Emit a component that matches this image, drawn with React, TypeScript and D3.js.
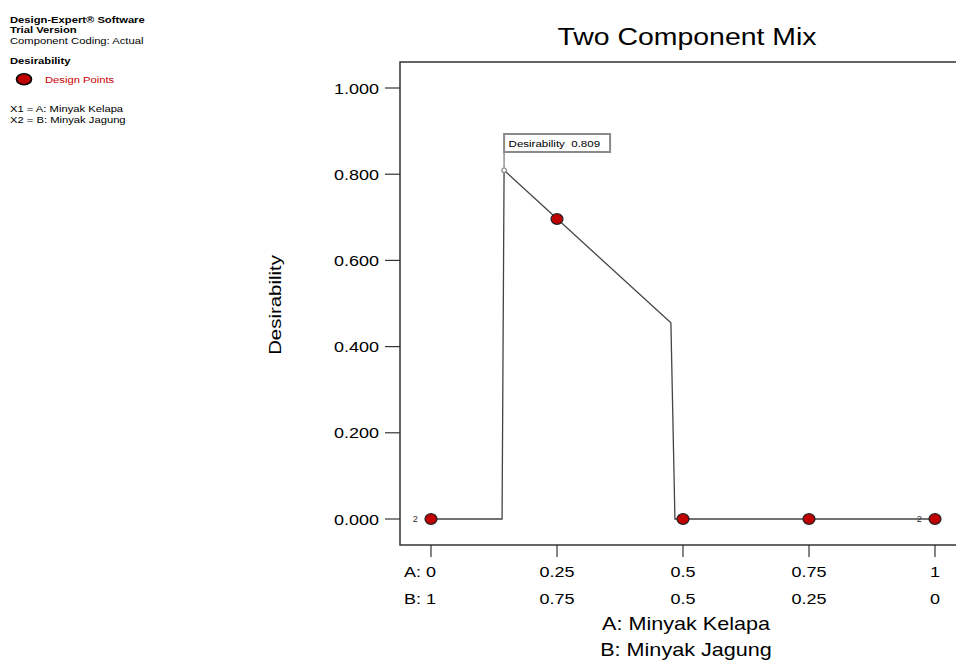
import React from "react";
import * as d3 from "d3";

// ---- data ----
const curveA = [0, 0.141, 0.145, 0.476, 0.484, 1];
const curveD = [0, 0, 0.809, 0.455, 0, 0];
const pointA = [0, 0.25, 0.5, 0.75, 1];
const pointD = [0, 0.696, 0, 0, 0];
const pointReps = [2, 1, 1, 1, 2];
const xTicksA = ["0", "0.25", "0.5", "0.75", "1"];
const xTicksB = ["1", "0.75", "0.5", "0.25", "0"];
const xTickVals = [0, 0.25, 0.5, 0.75, 1];
const yTickVals = [0, 0.2, 0.4, 0.6, 0.8, 1.0];
const optimumA = 0.145;
const optimumD = 0.809;
const infoLines = ["Design-Expert® Software", "Trial Version", "Component Coding: Actual"];
const factorLines = ["X1 = A: Minyak Kelapa", "X2 = B: Minyak Jagung"];

const FONT = "'Liberation Sans', Arial, Helvetica, sans-serif";

function T({ x, y, size, anchor = "start", weight = "normal", fill = "#000", rotate = 0, sx = 1.2, children }: any) {
  return (
    <text
      transform={`translate(${x},${y}) rotate(${rotate}) scale(${sx},1)`}
      fontFamily={FONT}
      fontSize={size}
      fontWeight={weight}
      fill={fill}
      textAnchor={anchor}
      xmlSpace="preserve"
      style={{ whiteSpace: "pre" }}
    >
      {children}
    </text>
  );
}

export default function App() {
  const W = 956, H = 660;
  const x = d3.scaleLinear().domain([0, 1]).range([431, 935]);
  const y = d3.scaleLinear().domain([0, 1]).range([519, 88]);
  const frame = { left: 400, top: 62, bottom: 545, right: 1000 };

  const line = d3
    .line<number>()
    .x((_, i) => x(curveA[i]))
    .y((d) => y(d));
  const path = line(curveD) || "";

  const ox = x(optimumA), oy = y(optimumD);

  return (
    <div style={{ position: "absolute", left: 0, top: 0 }}>
      <svg width={W} height={H} style={{ display: "block", background: "#fff" }}>
        {/* left info panel */}
        {infoLines.map((s, i) => (
          <T key={s} x={10} y={22.5 + i * 10.8} size={9.2} weight={i < 2 ? "bold" : "normal"} sx={1.22}>
            {s}
          </T>
        ))}
        <T x={10} y={64} size={9.2} weight="bold" sx={1.22}>Desirability</T>
        <ellipse cx={24} cy={79.3} rx={7.5} ry={5.5} fill="#c00000" stroke="#000" strokeWidth={1.6} />
        <T x={45} y={82.6} size={9.2} fill="#cc0000" sx={1.22}>Design Points</T>
        {factorLines.map((s, i) => (
          <T key={s} x={10} y={112 + i * 10.7} size={9.2} sx={1.22}>
            {s}
          </T>
        ))}

        {/* title */}
        <T x={687} y={45} size={23.5} anchor="middle" sx={1.21}>Two Component Mix</T>

        {/* frame */}
        <rect
          x={frame.left}
          y={frame.top}
          width={frame.right - frame.left}
          height={frame.bottom - frame.top}
          fill="none"
          stroke="#333"
          strokeWidth={1.5}
        />

        {/* y axis ticks */}
        {yTickVals.map((v) => (
          <g key={v}>
            <line x1={385} x2={frame.left} y1={y(v)} y2={y(v)} stroke="#333" strokeWidth={1.2} />
            <T x={379} y={y(v) + 5.5} size={15} anchor="end">{d3.format(".3f")(v)}</T>
          </g>
        ))}
        <T x={281} y={305} size={17} anchor="middle" rotate={-90}>Desirability</T>

        {/* x axis ticks */}
        {xTickVals.map((v, i) => (
          <g key={v}>
            <line x1={x(v)} x2={x(v)} y1={frame.bottom} y2={557} stroke="#333" strokeWidth={1.2} />
            <T x={x(v)} y={577} size={15} anchor="middle">{xTicksA[i]}</T>
            <T x={x(v)} y={603.5} size={15} anchor="middle">{xTicksB[i]}</T>
          </g>
        ))}
        <T x={x(0) - 10} y={577} size={15} anchor="end">A:</T>
        <T x={x(0) - 10} y={603.5} size={15} anchor="end">B:</T>
        <T x={686} y={630} size={18} anchor="middle">A: Minyak Kelapa</T>
        <T x={686} y={656} size={18} anchor="middle">B: Minyak Jagung</T>

        {/* response curve */}
        <path d={path} fill="none" stroke="#444" strokeWidth={1.3} />

        {/* optimum flag */}
        <line x1={ox} x2={ox} y1={152} y2={oy} stroke="#999" strokeWidth={1.6} />
        <circle cx={ox} cy={oy} r={2.3} fill="#fff" stroke="#888" strokeWidth={1.2} />
        <rect x={ox} y={134} width={106} height={18} fill="#fff" stroke="#8a8a8a" strokeWidth={2} />
        <T x={ox + 4.5} y={147} size={9.6} sx={1.2}>{`Desirability  ${optimumD.toFixed(3)}`}</T>

        {/* design points */}
        {pointA.map((a, i) => (
          <g key={i}>
            <ellipse cx={x(a)} cy={y(pointD[i])} rx={6} ry={5.3} fill="#c00000" stroke="#222" strokeWidth={1.2} />
            {pointReps[i] > 1 && (
              <T x={x(a) - 13} y={y(pointD[i]) + 3} size={8.5} anchor="end" fill="#333" sx={1.1}>
                {String(pointReps[i])}
              </T>
            )}
          </g>
        ))}
      </svg>
    </div>
  );
}
